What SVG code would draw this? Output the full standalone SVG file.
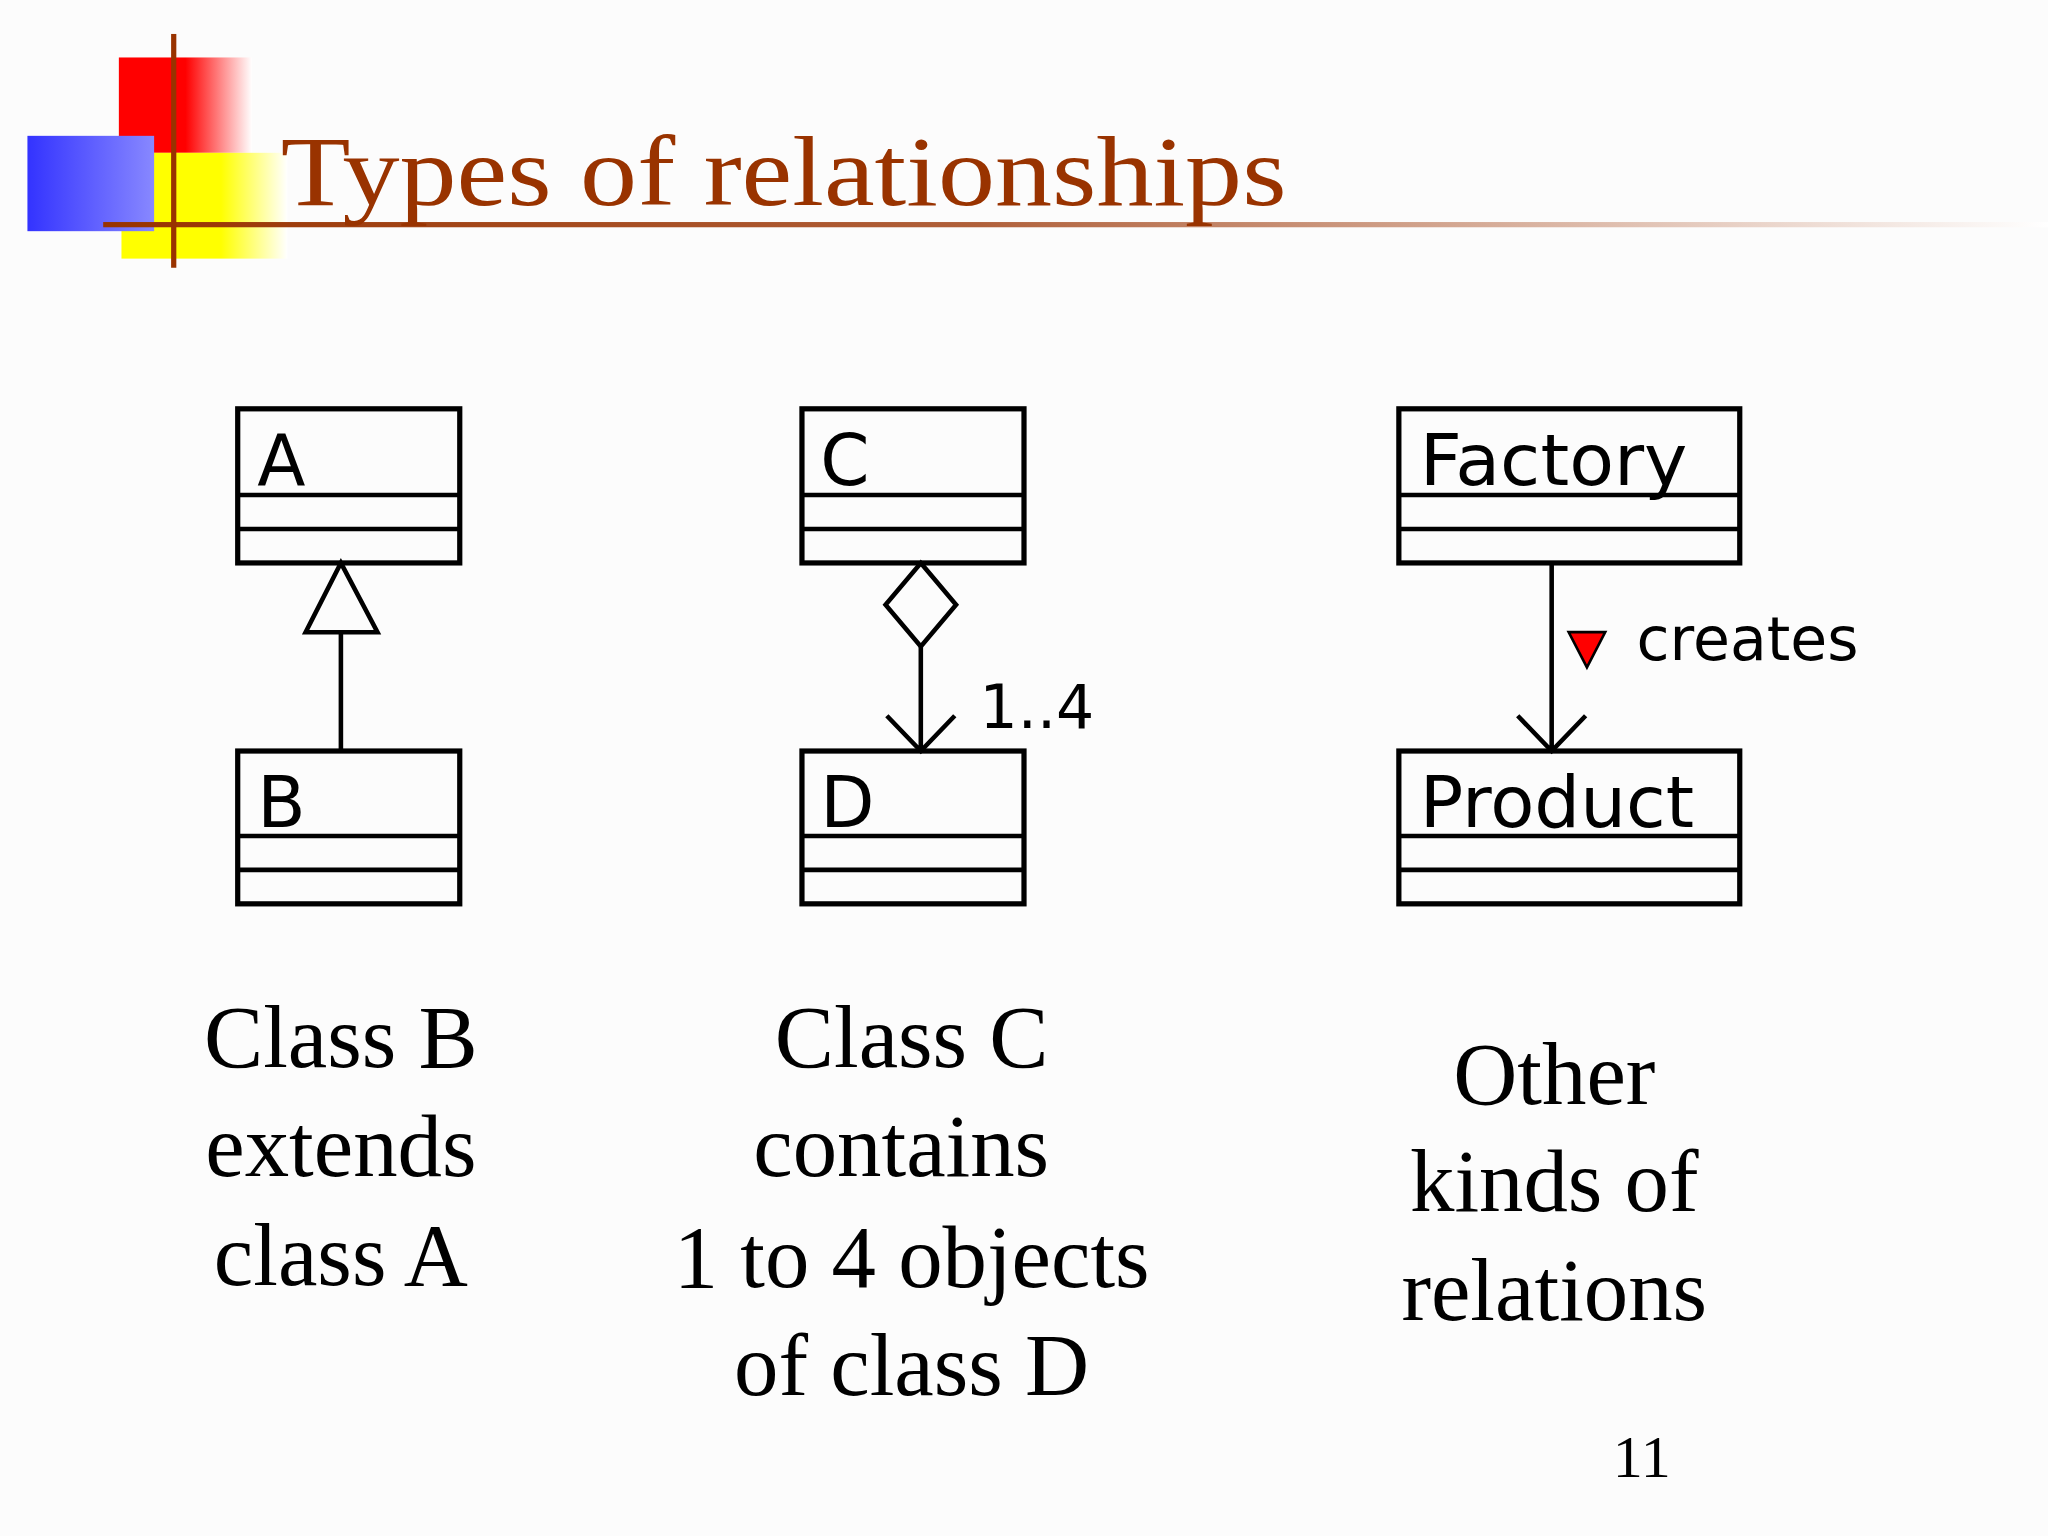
<svg xmlns="http://www.w3.org/2000/svg" width="2048" height="1536" viewBox="0 0 2048 1536">
<defs>
<linearGradient id="gr" x1="0" x2="1"><stop offset="0.5" stop-color="#ff0000"/><stop offset="1" stop-color="#ffffff"/></linearGradient>
<linearGradient id="gy" x1="0" x2="1"><stop offset="0.6" stop-color="#ffff00"/><stop offset="1" stop-color="#ffffff"/></linearGradient>
<linearGradient id="gb" x1="0" x2="1"><stop offset="0" stop-color="#3333ff"/><stop offset="1" stop-color="#8888ff"/></linearGradient>
<linearGradient id="gl" x1="0" x2="1"><stop offset="0" stop-color="#993300"/><stop offset="0.45" stop-color="#b0603a"/><stop offset="1" stop-color="#ffffff"/></linearGradient>
<style>
.box{fill:none;stroke:#000;stroke-width:4}
.ln{fill:none;stroke:#000;stroke-width:3.5}
.cls{font-family:"DejaVu Sans",sans-serif;font-size:54px;fill:#000}
.cap{font-family:"Liberation Serif",serif;font-size:68px;fill:#000;text-anchor:middle}
.lbl{font-family:"DejaVu Sans",sans-serif;font-size:46px;fill:#000}
</style>
</defs>
<rect width="2048" height="1536" fill="#fcfcfc"/>
<g transform="scale(1.30612)">
<g id="decor">
<rect x="91" y="44" width="102" height="73" fill="url(#gr)"/>
<rect x="93" y="117" width="127" height="81" fill="url(#gy)"/>
<rect x="21" y="104" width="97" height="73" fill="url(#gb)"/>
<rect x="79" y="170" width="1489" height="4" fill="url(#gl)"/>
<rect x="131" y="26" width="4" height="179" fill="#993300"/>
<text x="215" y="157" font-family="Liberation Serif,serif" font-size="76" fill="#993300" textLength="770" lengthAdjust="spacingAndGlyphs">Types of relationships</text>
</g>
<g id="A"><rect class="box" x="182" y="313" width="170" height="118"/><path class="ln" d="M182 379H352M182 405H352"/><text class="cls" x="197" y="371">A</text></g>
<g id="B"><rect class="box" x="182" y="575" width="170" height="117"/><path class="ln" d="M182 640H352M182 666H352"/><text class="cls" x="197" y="633">B</text></g>
<g id="C"><rect class="box" x="614" y="313" width="170" height="118"/><path class="ln" d="M614 379H784M614 405H784"/><text class="cls" x="628" y="371">C</text></g>
<g id="D"><rect class="box" x="614" y="575" width="170" height="117"/><path class="ln" d="M614 640H784M614 666H784"/><text class="cls" x="628" y="633">D</text></g>
<g id="Factory"><rect class="box" x="1071" y="313" width="261" height="118"/><path class="ln" d="M1071 379H1332M1071 405H1332"/><text class="cls" x="1087" y="371" textLength="205" lengthAdjust="spacingAndGlyphs">Factory</text></g>
<g id="Product"><rect class="box" x="1071" y="575" width="261" height="117"/><path class="ln" d="M1071 640H1332M1071 666H1332"/><text class="cls" x="1087" y="633" textLength="210" lengthAdjust="spacingAndGlyphs">Product</text></g>
<g id="connectors">
<path class="ln" d="M261 575V484"/><path class="ln" fill="#fff" d="M261 431L289 484H234Z"/>
<path class="ln" fill="#fff" d="M705 431L732 463L705 495L678 463Z"/><path class="ln" d="M705 495V575M679 548L705 575L731 548"/>
<text class="lbl" x="750" y="557">1..4</text>
<path class="ln" d="M1188 431V575M1162 548L1188 575L1214 548"/>
<path d="M1201 484H1229L1215 511Z" fill="#ff0000" stroke="#000" stroke-width="2"/>
<text class="lbl" x="1253" y="505">creates</text>
</g>
<g id="captions">
<text class="cap" x="261" y="817">Class B</text><text class="cap" x="261" y="900">extends</text><text class="cap" x="261" y="984">class A</text>
<text class="cap" x="698" y="817">Class C</text><text class="cap" x="690" y="900">contains</text><text class="cap" x="698" y="985">1 to 4 objects</text><text class="cap" x="698" y="1068">of class D</text>
<text class="cap" x="1190" y="845">Other</text><text class="cap" x="1190" y="927">kinds of</text><text class="cap" x="1190" y="1011">relations</text>
<text x="1257" y="1131" font-family="Liberation Serif,serif" font-size="46" text-anchor="middle">11</text>
</g>
</g>
</svg>
